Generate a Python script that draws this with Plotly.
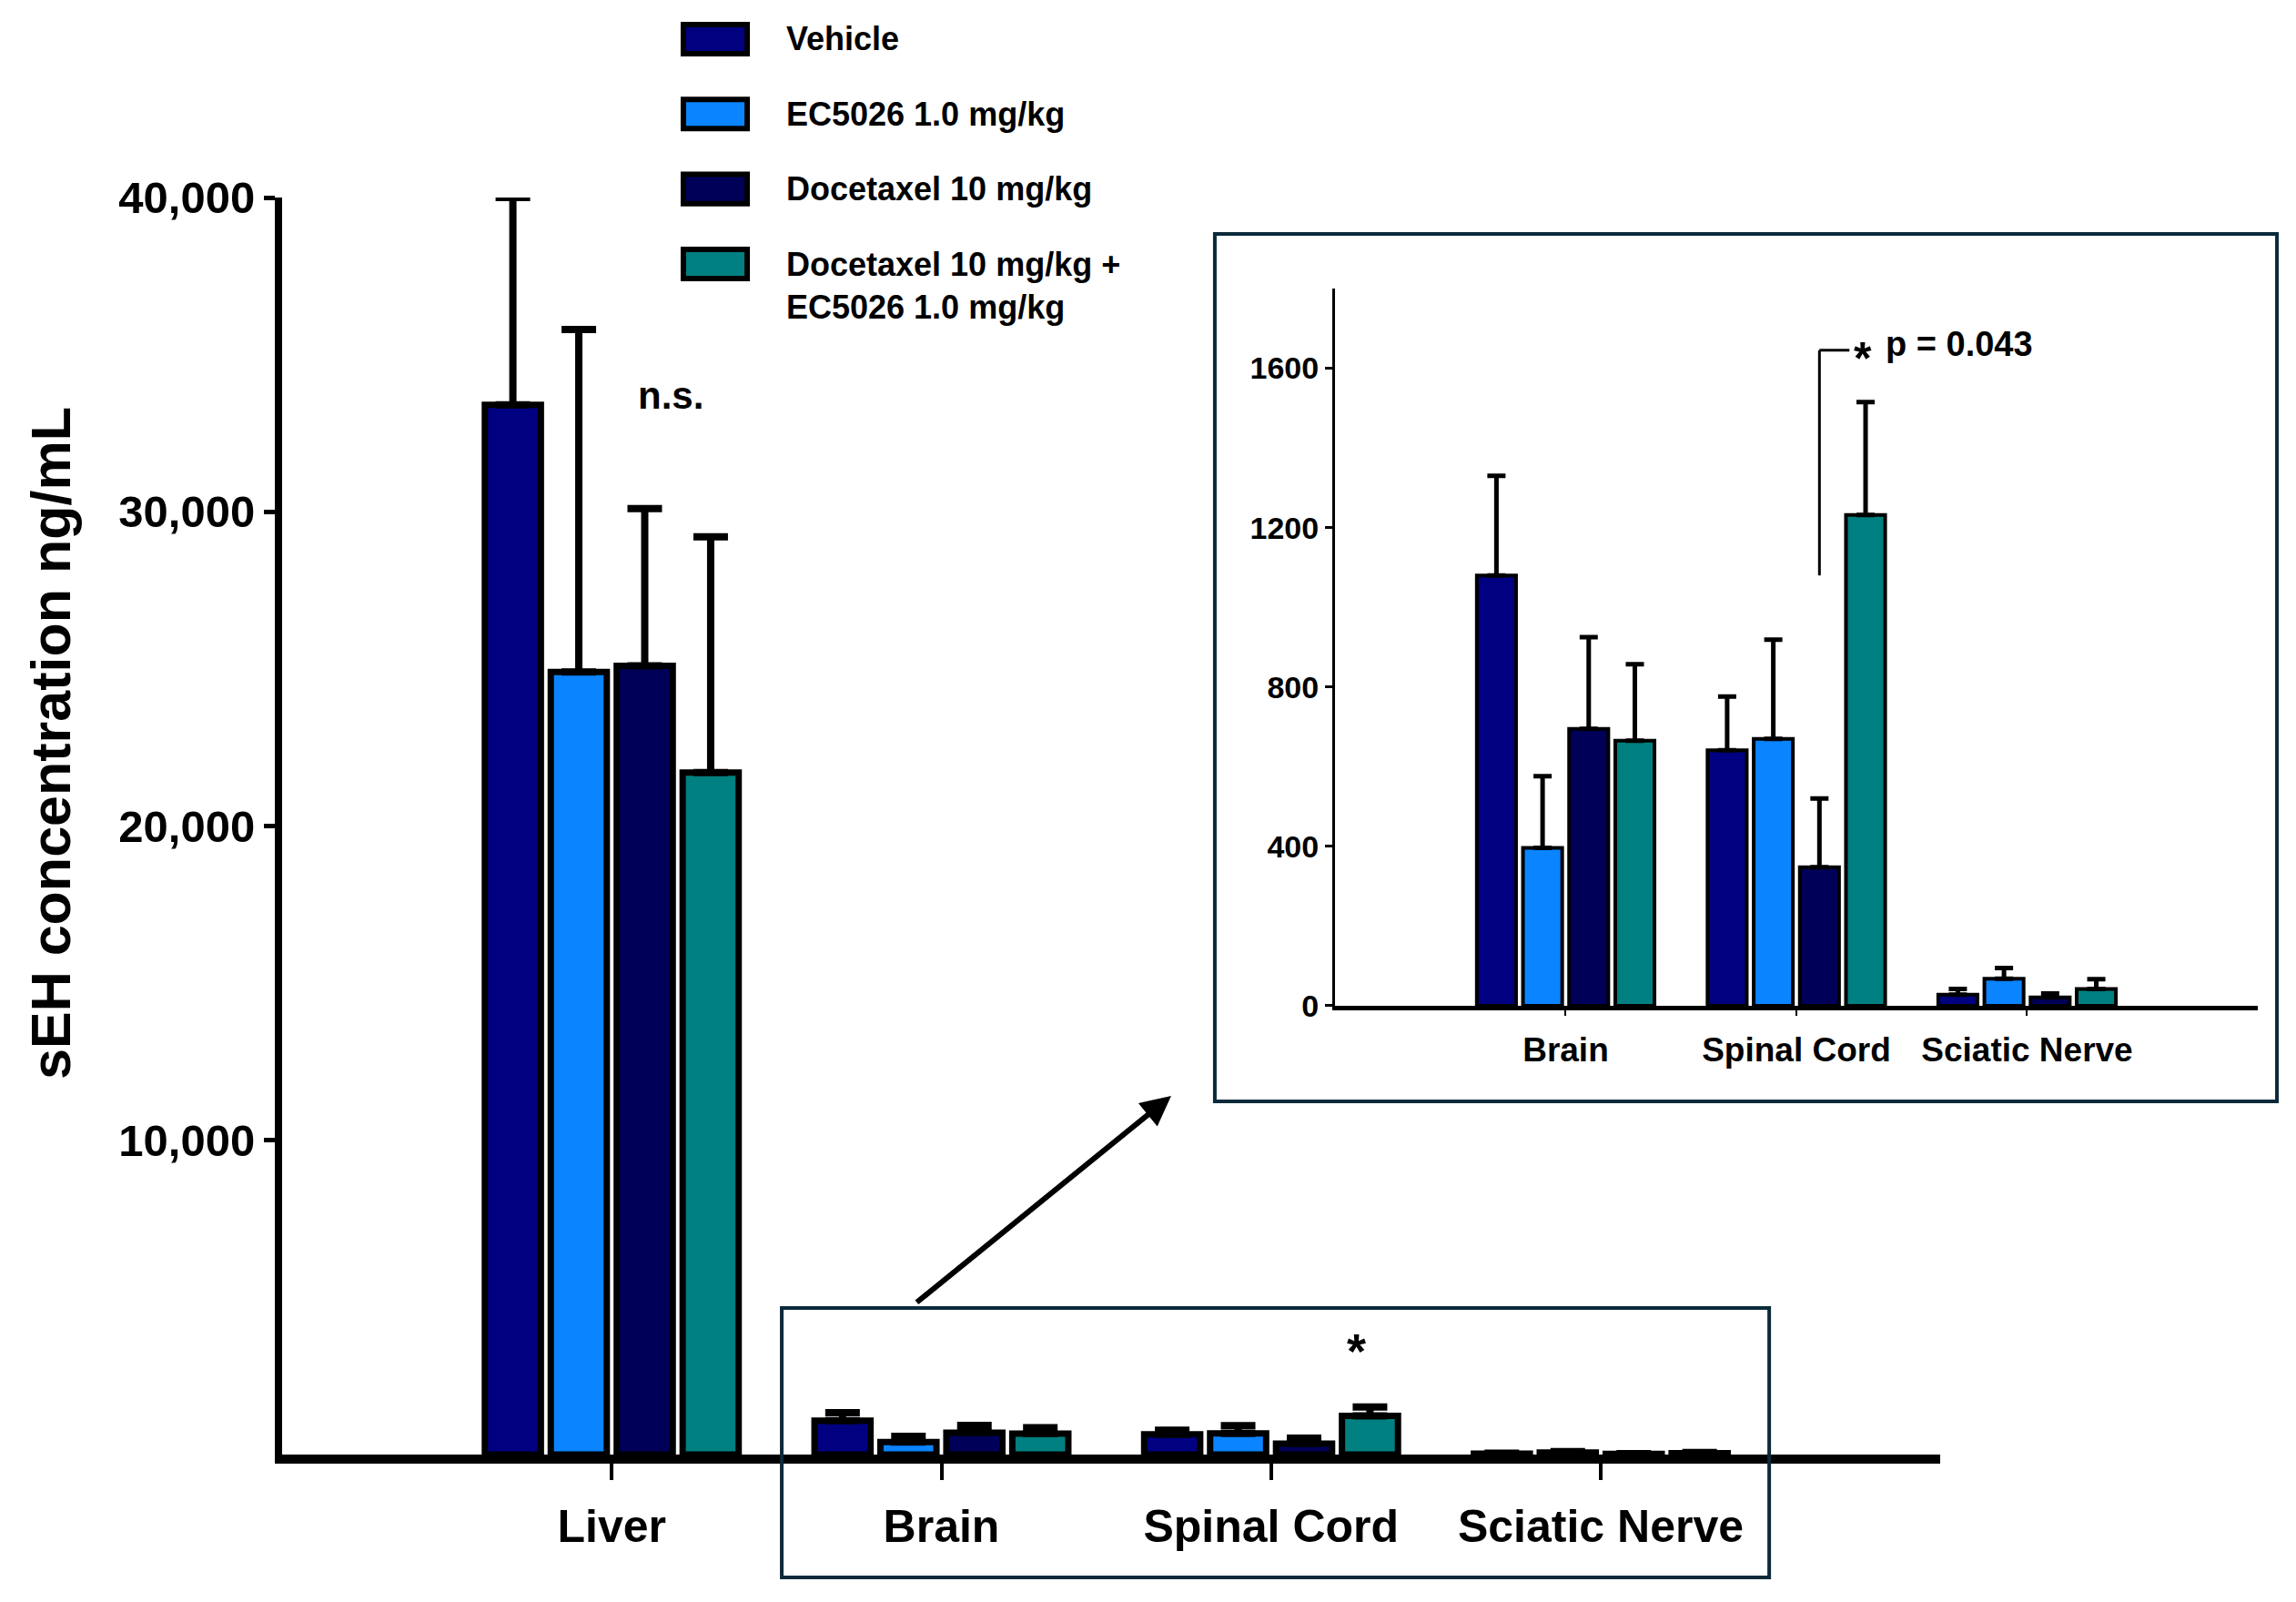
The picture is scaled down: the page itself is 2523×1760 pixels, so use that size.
"""
sEH concentration by tissue and treatment, with a zoomed inset for the
low-concentration tissues (brain, spinal cord, sciatic nerve).
"""
import plotly.graph_objects as go

tissues = ["Liver", "Brain", "Spinal Cord", "Sciatic Nerve"]
groups = [
    "Vehicle",
    "EC5026 1.0 mg/kg",
    "Docetaxel 10 mg/kg",
    "Docetaxel 10 mg/kg +<br>EC5026 1.0 mg/kg",
]
colors = ["#000080", "#0A84FF", "#000058", "#008080"]

vehicle_mean = [33400, 1080, 641, 28]
vehicle_err = [6600, 250, 135, 14]
ec5026_mean = [24900, 396, 670, 68]
ec5026_err = [10900, 180, 249, 27]
docetaxel_mean = [25100, 695, 348, 21]
docetaxel_err = [5000, 230, 172, 10]
combo_mean = [21700, 665, 1232, 42]
combo_err = [7500, 192, 283, 25]

means = [vehicle_mean, ec5026_mean, docetaxel_mean, combo_mean]
errs = [vehicle_err, ec5026_err, docetaxel_err, combo_err]

main_ticks = [10000, 20000, 30000, 40000]
inset_ticks = [0, 400, 800, 1200, 1600]

# significance bracket in the inset (data coords of inset)
sig_x = 1.1
sig_x_end = 1.23
sig_y_low = 1080
sig_y_high = 1645

SANS = "Liberation Sans, Arial, sans-serif"


def main():
    fig = go.Figure()

    for name, color, m, e in zip(groups, colors, means, errs):
        fig.add_trace(go.Bar(
            x=tissues, y=m, name=name, showlegend=False,
            marker=dict(color=color, line=dict(color="black", width=7)),
            error_y=dict(type="data", array=e, arrayminus=[0] * len(e),
                         symmetric=False, color="black", thickness=8, width=19),
            xaxis="x", yaxis="y",
        ))
    for name, color, m, e in zip(groups, colors, means, errs):
        fig.add_trace(go.Bar(
            x=tissues[1:], y=m[1:], name=name, showlegend=False,
            marker=dict(color=color, line=dict(color="black", width=4)),
            error_y=dict(type="data", array=e[1:], arrayminus=[0] * 3,
                         symmetric=False, color="black", thickness=5, width=10),
            xaxis="x2", yaxis="y2",
        ))

    fig.update_layout(
        width=2523, height=1760,
        margin=dict(l=302, r=50, t=209, b=170),
        plot_bgcolor="white", paper_bgcolor="white",
        barmode="group", bargap=0.2, bargroupgap=0.15,
        showlegend=False,
        xaxis=dict(domain=[0, 0.8393], range=[-1.0, 4.03],
                   showline=True, linecolor="black", linewidth=10,
                   ticks="outside", ticklen=18, tickwidth=4, tickcolor="black",
                   ticklabelstandoff=8,
                   tickfont=dict(family=SANS, size=50, color="black", weight="bold"),
                   showgrid=False, zeroline=False),
        yaxis=dict(domain=[0, 1], range=[0, 40000],
                   tickvals=main_ticks, tickformat=",d",
                   showline=True, linecolor="black", linewidth=8,
                   ticks="outside", ticklen=12, tickwidth=5, tickcolor="black",
                   tickfont=dict(family=SANS, size=49, color="black", weight="bold"),
                   showgrid=False, zeroline=False),
        xaxis2=dict(domain=[0.5329, 1.0], range=[-1, 3], anchor="y2",
                    showline=True, linecolor="black", linewidth=5,
                    ticks="outside", ticklen=6, tickwidth=2, tickcolor="black",
                    ticklabelstandoff=6,
                    tickfont=dict(family=SANS, size=37, color="black", weight="bold"),
                    showgrid=False, zeroline=False),
        yaxis2=dict(domain=[0.357, 0.9276], range=[0, 1800], anchor="x2",
                    tickvals=inset_ticks,
                    showline=True, linecolor="black", linewidth=3,
                    ticks="outside", ticklen=8, tickwidth=3, tickcolor="black",
                    tickfont=dict(family=SANS, size=34, color="black", weight="bold"),
                    showgrid=False, zeroline=False),
    )

    # y-axis title
    fig.add_annotation(x=-0.117, y=0.5663, xref="paper", yref="paper",
                       text="sEH concentration ng/mL", textangle=-90,
                       showarrow=False, xanchor="center", yanchor="middle",
                       font=dict(family=SANS, size=61, color="black", weight="bold"))

    # legend drawn as swatches + labels above the main plot
    legend_top = 1.126
    legend_step = 0.0596
    for i, (name, color) in enumerate(zip(groups, colors)):
        yc = legend_top - i * legend_step
        fig.add_shape(type="rect", xref="paper", yref="paper",
                      x0=0.2031, x1=0.2354, y0=yc - 0.0116, y1=yc + 0.0116,
                      fillcolor=color, line=dict(color="black", width=6))
        multi = "<br>" in name
        fig.add_annotation(x=0.2543, y=yc + (0.016 if multi else 0),
                           xref="paper", yref="paper", text=name,
                           showarrow=False, xanchor="left",
                           yanchor="top" if multi else "middle", align="left",
                           font=dict(family=SANS, size=36, color="black", weight="bold"))

    # inset frame and the box around the small bars
    fig.add_shape(type="rect", xref="paper", yref="paper",
                  x0=0.4721, x1=1.0097, y0=0.2810, y1=0.9710,
                  line=dict(color="#0B2A3A", width=4))
    fig.add_shape(type="rect", xref="paper", yref="paper",
                  x0=0.2529, x1=0.7527, y0=-0.0978, y1=0.1166,
                  line=dict(color="#0B2A3A", width=4))

    # significance bracket
    fig.add_shape(type="line", xref="x2", yref="y2",
                  x0=sig_x, x1=sig_x, y0=sig_y_low, y1=sig_y_high,
                  line=dict(color="black", width=3))
    fig.add_shape(type="line", xref="x2", yref="y2",
                  x0=sig_x, x1=sig_x_end, y0=sig_y_high, y1=sig_y_high,
                  line=dict(color="black", width=3))

    fig.add_annotation(x=1.29, y=sig_y_high - 20, xref="x2", yref="y2",
                       text="*", showarrow=False,
                       font=dict(family=SANS, size=50, color="black", weight="bold"))
    fig.add_annotation(x=1.38, y=sig_y_high + 15, xref="x2", yref="y2",
                       text="p = 0.043", showarrow=False, xanchor="left",
                       font=dict(family=SANS, size=38, color="black", weight="bold"))

    fig.add_annotation(x=0.18, y=33700, xref="x", yref="y", text="n.s.",
                       showarrow=False,
                       font=dict(family=SANS, size=42, color="black", weight="bold"))
    fig.add_annotation(x=2.26, y=3300, xref="x", yref="y", text="*",
                       showarrow=False,
                       font=dict(family=SANS, size=54, color="black", weight="bold"))

    # arrow from the small-bar box to the inset
    fig.add_annotation(x=0.450, y=0.2853, xref="paper", yref="paper",
                       ax=-281, ay=228, text="", showarrow=True,
                       arrowhead=2, arrowsize=1.1, arrowwidth=6, arrowcolor="black")

    fig.write_html("out.html")


if __name__ == "__main__":
    main()
